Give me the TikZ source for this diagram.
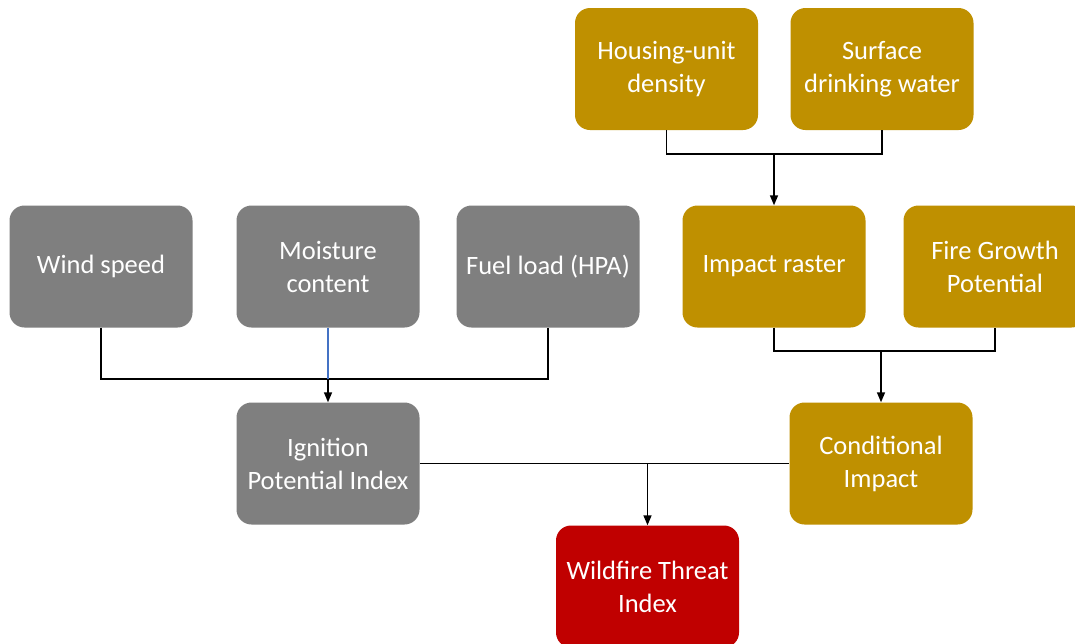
\documentclass[tikz,border=0pt]{standalone}
\usepackage{fontspec}
\setmainfont{Carlito}
\usetikzlibrary{arrows.meta}
\definecolor{boxgray}{HTML}{7F7F7F}
\definecolor{boxgold}{HTML}{BF9000}
\definecolor{boxred}{HTML}{C00000}
\definecolor{linkblue}{HTML}{4472C4}
\tikzset{
  box/.style={rounded corners=15pt, minimum width=183pt, minimum height=122pt,
    inner sep=0pt, align=center, text=white,
    font=\fontsize{26.5pt}{33pt}\selectfont},
  graybox/.style={box, fill=boxgray},
  goldbox/.style={box, fill=boxgold},
  redbox/.style={box, fill=boxred},
  link/.style={line width=1.5pt, draw=black},
  arrowlink/.style={link, -{Triangle[length=10pt,width=8pt]}},
}
\begin{document}
\begin{tikzpicture}[x=1pt,y=-1pt]
\useasboundingbox (0,0) rectangle (1075,643);
\clip (0,0) rectangle (1075,643);
\fill[white] (0,0) rectangle (1075,643);
% nodes
\node[goldbox] (hud) at (666.5,69) {Housing-unit\\density};
\node[goldbox] (sdw) at (882,69) {Surface\\drinking water};
\node[graybox] (wind) at (101,266.5) {Wind speed};
\node[graybox] (moist) at (328,266.5) {Moisture\\content};
\node[graybox] (fuel) at (548,266.5) {Fuel load (HPA)};
\node[goldbox] (imp) at (774,266.5) {Impact raster};
\node[goldbox] (fire) at (995,266.5) {Fire Growth\\Potential};
\node[graybox] (ign) at (328,463.5) {Ignition\\Potential Index};
\node[goldbox] (cond) at (881,463.5) {Conditional\\Impact};
\node[redbox] (wt) at (647.5,586.5) {Wildfire Threat\\Index};
% junctions
\coordinate (j1) at (774,154);
\coordinate (j2) at (328,379);
\coordinate (j3) at (881,351);
\coordinate (j4) at (647.5,463.5);
% connectors
\draw[link] (hud.south) |- (j1) -| (sdw.south);
\draw[arrowlink] (j1) -- (imp.north);
\draw[link] (wind.south) |- (j2) -| (fuel.south);
\draw[line width=1.2pt, draw=linkblue] (moist.south) -- (j2);
\draw[arrowlink] (j2) -- (ign.north);
\draw[link] (imp.south) |- (j3) -| (fire.south);
\draw[arrowlink] (j3) -- (cond.north);
\draw[link] (ign.east) -- (cond.west);
\draw[arrowlink] (j4) -- (wt.north);
\end{tikzpicture}
\end{document}
